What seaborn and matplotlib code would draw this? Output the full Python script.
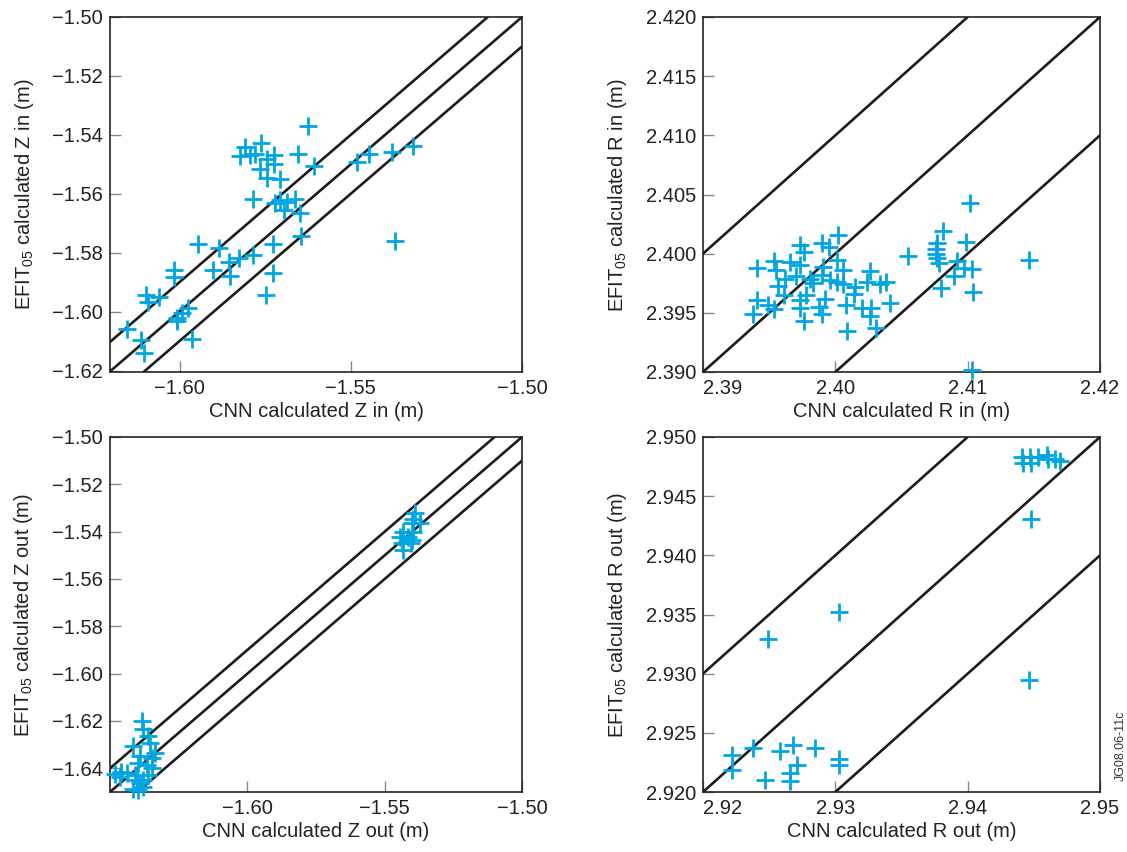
import matplotlib
matplotlib.use("Agg")
import matplotlib.pyplot as plt
import seaborn as sns
import pandas as pd

# ---------------- data ----------------
# Panel 1: Z in
zin_cnn = [-1.5626, -1.5318, -1.5381, -1.5446, -1.5483, -1.5372, -1.5607, -1.5654,
           -1.5808, -1.5761, -1.5822, -1.5793, -1.5781, -1.5725, -1.5744, -1.5725,
           -1.5764, -1.5744, -1.5706, -1.5785, -1.5720, -1.5706, -1.5686, -1.5662,
           -1.5696, -1.5648, -1.5646, -1.5727, -1.5727, -1.5747, -1.5786, -1.5827,
           -1.5856, -1.5854, -1.5885, -1.5903, -1.5945, -1.6016, -1.6016, -1.6098,
           -1.6060, -1.6093, -1.5976, -1.5992, -1.6006, -1.6008, -1.6152, -1.6113,
           -1.6103, -1.5963]
zin_efit = [-1.5370, -1.5437, -1.5457, -1.5465, -1.5493, -1.5762, -1.5506, -1.5465,
            -1.5440, -1.5427, -1.5472, -1.5468, -1.5465, -1.5468, -1.5483, -1.5499,
            -1.5517, -1.5547, -1.5550, -1.5617, -1.5632, -1.5621, -1.5627, -1.5619,
            -1.5655, -1.5666, -1.5743, -1.5771, -1.5868, -1.5943, -1.5808, -1.5819,
            -1.5832, -1.5879, -1.5785, -1.5858, -1.5771, -1.5858, -1.5881, -1.5943,
            -1.5949, -1.5969, -1.5988, -1.6005, -1.6022, -1.6031, -1.6060, -1.6096,
            -1.6139, -1.6094]

# Panel 2: R in
rin_cnn = [2.4102, 2.4081, 2.4099, 2.4077, 2.4076, 2.4076, 2.4077, 2.4078, 2.4146,
           2.4055, 2.4092, 2.4097, 2.4103, 2.4090, 2.4080, 2.4104, 2.4103,
           2.4002, 2.3990, 2.3995, 2.3973, 2.3976, 2.3941, 2.3954, 2.3955, 2.3966,
           2.3973, 2.4001, 2.3991, 2.4006, 2.4026, 2.3990, 2.3970, 2.3962, 2.3981,
           2.3983, 2.4024, 2.4038, 2.4034, 2.3957, 2.4001, 2.4006, 2.4015, 2.3996,
           2.3961, 2.3978, 2.4014, 2.3941, 2.3973, 2.3992, 2.4041, 2.3949, 2.3954,
           2.3973, 2.3988, 2.4008, 2.4020, 2.4027, 2.3938, 2.3990, 2.4026, 2.3976,
           2.4031, 2.4009]
rin_efit = [2.4043, 2.4019, 2.4010, 2.4009, 2.4004, 2.4000, 2.3996, 2.3992, 2.3995,
            2.3998, 2.3994, 2.3988, 2.3987, 2.3981, 2.3971, 2.3968, 2.3902,
            2.4016, 2.4009, 2.4006, 2.4007, 2.4001, 2.3988, 2.3994, 2.3986, 2.3993,
            2.3990, 2.3995, 2.3989, 2.3986, 2.3985, 2.3982, 2.3981, 2.3979, 2.3979,
            2.3975, 2.3976, 2.3976, 2.3974, 2.3973, 2.3976, 2.3974, 2.3972, 2.3978,
            2.3965, 2.3965, 2.3966, 2.3961, 2.3961, 2.3962, 2.3958, 2.3957, 2.3953,
            2.3954, 2.3955, 2.3957, 2.3954, 2.3954, 2.3949, 2.3949, 2.3947, 2.3943,
            2.3937, 2.3935]

# Panel 3: Z out
zout_cnn = [-1.6385, -1.6381, -1.6361, -1.6415, -1.6354, -1.6336, -1.6391, -1.6348,
            -1.6397, -1.6366, -1.6348, -1.6461, -1.6482, -1.6439, -1.6464, -1.6409,
            -1.6361, -1.6403, -1.6379, -1.6391, -1.6379, -1.6415, -1.6397,
            -1.5390, -1.5397, -1.5402, -1.5371, -1.5432, -1.5396, -1.5444, -1.5415,
            -1.5402, -1.5438, -1.5405, -1.5432]
zout_efit = [-1.6199, -1.6235, -1.6264, -1.6306, -1.6292, -1.6336, -1.6348, -1.6357,
             -1.6379, -1.6386, -1.6400, -1.6414, -1.6424, -1.6421, -1.6438, -1.6428,
             -1.6428, -1.6449, -1.6449, -1.6463, -1.6480, -1.6488, -1.6491,
             -1.5322, -1.5346, -1.5365, -1.5365, -1.5400, -1.5400, -1.5421, -1.5422,
             -1.5435, -1.5449, -1.5449, -1.5477]

# Panel 4: R out
rout_cnn = [2.9441, 2.9442, 2.9447, 2.9448, 2.9453, 2.9460, 2.9461, 2.9466, 2.9470,
            2.9448, 2.9303, 2.9249, 2.9446, 2.9222, 2.9222, 2.9238, 2.9258, 2.9268,
            2.9285, 2.9303, 2.9303, 2.9271, 2.9247, 2.9266, 2.9266]
rout_efit = [2.9483, 2.9478, 2.9483, 2.9478, 2.9483, 2.9485, 2.9481, 2.9481, 2.9480,
             2.9431, 2.9352, 2.9329, 2.9295, 2.9231, 2.9219, 2.9237, 2.9235, 2.9240,
             2.9237, 2.9228, 2.9223, 2.9223, 2.9210, 2.9216, 2.9209]

band_offsets = [-0.01, 0.0, 0.01]

zin_xticks = [-1.60, -1.55, -1.50]
zin_yticks = [-1.50, -1.52, -1.54, -1.56, -1.58, -1.60, -1.62]
rin_xticks = [2.39, 2.40, 2.41, 2.42]
rin_yticks = [2.390, 2.395, 2.400, 2.405, 2.410, 2.415, 2.420]
zout_xticks = [-1.60, -1.55, -1.50]
zout_yticks = [-1.50, -1.52, -1.54, -1.56, -1.58, -1.60, -1.62, -1.64]
rout_xticks = [2.92, 2.93, 2.94, 2.95]
rout_yticks = [2.920, 2.925, 2.930, 2.935, 2.940, 2.945, 2.950]

# ---------------- style ----------------
sns.set_style("ticks")
plt.rcParams["font.family"] = ["Liberation Sans", "DejaVu Sans"]
plt.rcParams["mathtext.fontset"] = "custom"
plt.rcParams["mathtext.rm"] = "Liberation Sans"
plt.rcParams["mathtext.it"] = "Liberation Sans:italic"
plt.rcParams["axes.unicode_minus"] = True

POINT = "#00A6E2"
LINE = "#1c1c1c"
W, H = 1127, 852

fig = plt.figure(figsize=(W / 100, H / 100), dpi=100)


def make_ax(l, r, t, b):
    return fig.add_axes([l / W, (H - b) / H, (r - l) / W, (b - t) / H])


def fmt(vals, nd):
    return [f"{v:.{nd}f}".replace("-", "\u2212") for v in vals]


def panel(ax, xs, ys, xlim, ylim, xticks, yticks, xnd, ynd, xlabel, ylabel, left_first=False):
    df = pd.DataFrame({"cnn": xs, "efit": ys})
    for off in band_offsets:
        ax.axline((xlim[0], xlim[0] + off), slope=1, color=LINE, lw=1.9, zorder=2)
    sns.scatterplot(data=df, x="cnn", y="efit", ax=ax, marker="+", s=175,
                    color=POINT, linewidth=2.0, zorder=3, clip_on=False, legend=False)
    ax.set_xlim(*xlim)
    ax.set_ylim(*ylim)
    ax.set_xticks(xticks, fmt(xticks, xnd))
    ax.set_yticks(yticks, fmt(yticks, ynd))
    ax.tick_params(direction="in", length=8, width=1.0, color="#888888",
                   labelsize=14.5, labelcolor="#222222", pad=5)
    for sp in ax.spines.values():
        sp.set_color("#222222")
        sp.set_linewidth(1.2)
    ax.set_xlabel(xlabel, fontsize=14.5, color="#222222", labelpad=3)
    ax.set_ylabel(ylabel, fontsize=14.5, color="#222222", labelpad=12)
    if left_first:
        ax.get_xticklabels()[0].set_horizontalalignment("left")


ax1 = make_ax(110, 522, 17, 372)
panel(ax1, zin_cnn, zin_efit, (-1.6203, -1.50), (-1.6205, -1.50), zin_xticks, zin_yticks, 2, 2,
      "CNN calculated Z in (m)", "EFIT$_{05}$ calculated Z in (m)")

ax2 = make_ax(703, 1100, 17, 372)
panel(ax2, rin_cnn, rin_efit, (2.39, 2.42), (2.39, 2.42), rin_xticks, rin_yticks, 2, 3,
      "CNN calculated R in (m)", "EFIT$_{05}$ calculated R in (m)", left_first=True)

ax3 = make_ax(110, 522, 437, 792)
panel(ax3, zout_cnn, zout_efit, (-1.65, -1.50), (-1.65, -1.50), zout_xticks, zout_yticks, 2, 2,
      "CNN calculated Z out (m)", "EFIT$_{05}$ calculated Z out (m)")

ax4 = make_ax(703, 1100, 437, 792)
panel(ax4, rout_cnn, rout_efit, (2.92, 2.95), (2.92, 2.95), rout_xticks, rout_yticks, 2, 3,
      "CNN calculated R out (m)", "EFIT$_{05}$ calculated R out (m)", left_first=True)

fig.text(1121 / W, 1 - 746 / H, "JG08.06-11c", rotation=90, ha="center", va="center",
         fontsize=9, color="#333333")

fig.savefig("out.png", dpi=100)
